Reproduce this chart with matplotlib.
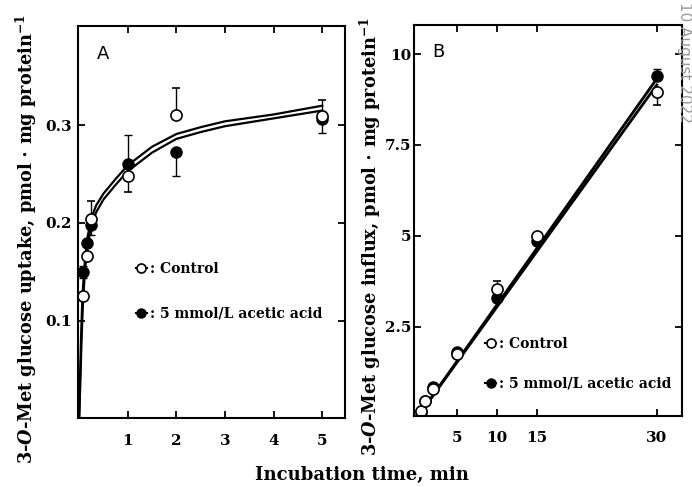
import matplotlib.pyplot as plt
from matplotlib.lines import Line2D

plt.rcParams['font.family'] = 'DejaVu Serif'
plt.rcParams['font.weight'] = 'bold'
plt.rcParams['axes.labelweight'] = 'bold'
plt.rcParams['mathtext.fontset'] = 'custom'
plt.rcParams['mathtext.rm'] = 'DejaVu Serif:bold'
plt.rcParams['mathtext.it'] = 'DejaVu Serif:italic:bold'

# panel A - uptake, 0-5 min
time_a = [0.083, 0.17, 0.25, 1, 2, 5]
ctrl_a = [0.125, 0.166, 0.204, 0.248, 0.310, 0.309]
ctrl_a_lo = [0.0, 0.0, 0.0, 0.016, 0.0, 0.0]
ctrl_a_hi = [0.0, 0.0, 0.018, 0.0, 0.028, 0.017]
acet_a = [0.150, 0.179, 0.198, 0.260, 0.273, 0.306]
acet_a_lo = [0.006, 0.0, 0.010, 0.0, 0.025, 0.014]
acet_a_hi = [0.006, 0.0, 0.0, 0.030, 0.0, 0.0]

# fitted curves
fit_x_a = [0, 0.02, 0.04, 0.06, 0.08, 0.12, 0.17, 0.25, 0.35, 0.5, 0.75, 1, 1.5, 2, 2.5, 3, 4, 5]
fit_hi_a = [0, 0.045, 0.085, 0.115, 0.135, 0.163, 0.185, 0.205, 0.218, 0.230, 0.245, 0.259, 0.278, 0.291, 0.298, 0.304, 0.311, 0.320]
fit_lo_a = [0, 0.030, 0.065, 0.095, 0.120, 0.152, 0.176, 0.197, 0.211, 0.224, 0.239, 0.253, 0.272, 0.286, 0.293, 0.299, 0.307, 0.315]

# panel B - influx, 0-30 min
time_b = [0.5, 1, 2, 5, 10, 15, 30]
ctrl_b = [0.2, 0.45, 0.8, 1.75, 3.55, 5.0, 8.95]
ctrl_b_lo = [0, 0, 0, 0, 0, 0, 0.35]
ctrl_b_hi = [0, 0, 0, 0, 0.2, 0, 0]
acet_b = [0.15, 0.45, 0.85, 1.8, 3.3, 4.85, 9.4]
acet_b_lo = [0, 0, 0, 0, 0, 0, 0]
acet_b_hi = [0, 0, 0, 0.05, 0, 0, 0.2]

fit_x_b = [0, 30]
fit_ctrl_b = [0, 9.15]
fit_acet_b = [0, 9.32]

fig = plt.figure(figsize=(6.92, 4.87), dpi=100)
axA = fig.add_axes([0.1123, 0.141, 0.3863, 0.8055])
axB = fig.add_axes([0.598, 0.1458, 0.3869, 0.803])

ms = 8
for ax in (axA, axB):
    for s in ax.spines.values():
        s.set_linewidth(1.5)
    ax.tick_params(direction='in', top=True, right=True, length=5, width=1.3,
                   labelsize=11)
    ax.tick_params(axis='x', pad=11)
axA.tick_params(axis='y', pad=4.5)
axB.tick_params(axis='y', pad=1.5)

# --- A ---
axA.plot(fit_x_a, fit_hi_a, color='black', lw=1.6)
axA.plot(fit_x_a, fit_lo_a, color='black', lw=1.6)
axA.errorbar(time_a, acet_a, yerr=[acet_a_lo, acet_a_hi], fmt='o', ms=ms,
             mfc='black', mec='black', ecolor='black', elinewidth=1, capsize=3)
axA.errorbar(time_a, ctrl_a, yerr=[ctrl_a_lo, ctrl_a_hi], fmt='o', ms=ms,
             mfc='white', mec='black', mew=1.2, ecolor='black', elinewidth=1, capsize=3)
axA.set_xlim(-0.03, 5.47)
axA.set_ylim(0, 0.4015)
axA.set_xticks([1, 2, 3, 4, 5])
axA.set_yticks([0.1, 0.2, 0.3])
axA.set_ylabel(r'3-$\mathit{O}$-Met glucose uptake, pmol $\cdot$ mg protein$^{-1}$', fontsize=12.8)
axA.yaxis.set_label_coords(-0.145, 0.458)
axA.text(0.07, 0.93, 'A', transform=axA.transAxes, family='DejaVu Sans',
         fontweight='normal', fontsize=13, va='center')

# --- B ---
axB.plot(fit_x_b, fit_ctrl_b, color='black', lw=2)
axB.plot(fit_x_b, fit_acet_b, color='black', lw=2)
axB.errorbar(time_b, acet_b, yerr=[acet_b_lo, acet_b_hi], fmt='o', ms=ms,
             mfc='black', mec='black', ecolor='black', elinewidth=1, capsize=3)
axB.errorbar(time_b, ctrl_b, yerr=[ctrl_b_lo, ctrl_b_hi], fmt='o', ms=ms,
             mfc='white', mec='black', mew=1.2, ecolor='black', elinewidth=1, capsize=3)
axB.set_xlim(-0.4, 33.1)
axB.set_ylim(0.05, 10.8)
axB.set_xticks([5, 10, 15, 30])
axB.set_yticks([2.5, 5, 7.5, 10])
axB.set_yticklabels(['2.5', '5', '7.5', '10'])
axB.set_ylabel(r'3-$\mathit{O}$-Met glucose influx, pmol $\cdot$ mg protein$^{-1}$', fontsize=12.8)
axB.yaxis.set_label_coords(-0.115, 0.46)
axB.text(0.07, 0.93, 'B', transform=axB.transAxes, family='DejaVu Sans',
         fontweight='normal', fontsize=13, va='center')

handles = [Line2D([], [], marker='o', ls='-', color='black', mfc='white', ms=6.5, mew=1.2),
           Line2D([], [], marker='o', ls='-', color='black', mfc='black', ms=6.5)]
labels = [': Control', ': 5 mmol/L acetic acid']
axA.legend(handles, labels, loc='upper left', bbox_to_anchor=(0.17, 0.43), frameon=False,
           handlelength=0.8, handletextpad=0.2, labelspacing=2.2, fontsize=10)
axB.legend(handles, labels, loc='upper left', bbox_to_anchor=(0.22, 0.235), frameon=False,
           handlelength=0.8, handletextpad=0.2, labelspacing=1.9, fontsize=10)

fig.text(362 / 692, 1 - 475 / 487, 'Incubation time, min', ha='center', va='center', fontsize=13)
fig.text(0.989, 0.995, '10 August 2022', rotation=270, ha='center', va='top',
         family='DejaVu Sans', fontweight='normal', fontsize=11, color='#999999')

fig.savefig('out.png', dpi=100)
